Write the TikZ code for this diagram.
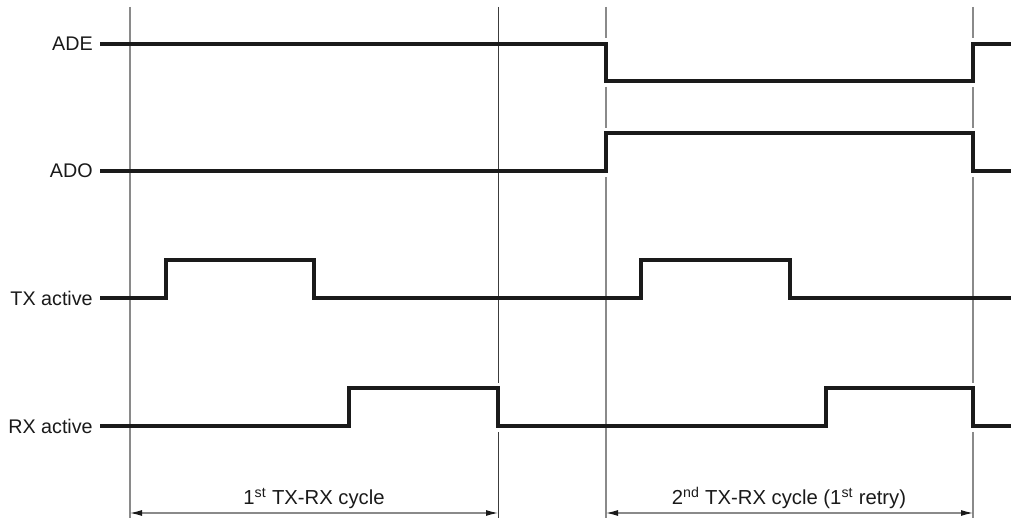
\documentclass[tikz,border=0pt]{standalone}
\usepackage{fontspec}
\setmainfont{Liberation Sans}
\usepackage{tikz}
\usetikzlibrary{arrows.meta,positioning}
\definecolor{sigblack}{HTML}{1A1A1A}
\definecolor{guidegray}{HTML}{8A8A8A}

\begin{document}
\begin{tikzpicture}[x=0.75pt, y=-0.75pt,
    signal/.style={line width=2.3pt, sigblack, line join=miter},
    guide/.style={line width=0.8pt, guidegray},
    guidedark/.style={line width=0.6pt, sigblack!85},
    dimarrow/.style={{Latex[length=9pt,width=4.5pt,color=sigblack]}-{Latex[length=9pt,width=4.5pt,color=sigblack]}, line width=0.8pt, guidegray},
    siglabel/.style={anchor=east, inner sep=0pt, font=\fontsize{14.8}{17}\selectfont, sigblack},
    cyclabel/.style={anchor=base, inner sep=0pt, font=\fontsize{15.2}{17}\selectfont, sigblack}]
  \useasboundingbox (0,0) rectangle (1011,520);

  % Guide lines (broken where an edge runs on them)
  \draw[guide] (130,7) -- (130,518);
  \draw[guidedark] (498,7) -- (498,383) (498,432) -- (498,518);
  \draw[guide] (606,7) -- (606,38) (606,87) -- (606,128) (606,177) -- (606,518);
  \draw[guide] (973,7) -- (973,38) (973,87) -- (973,128) (973,177) -- (973,383)
    (973,432) -- (973,518);

  % Signal names
  \node[siglabel] (ade) at (93,44) {ADE};
  \node[siglabel] (ado) at (93,171) {ADO};
  \node[siglabel] (tx) at (93,298) {TX active};
  \node[siglabel] (rx) at (93,426) {RX active};

  % Waveforms
  \draw[signal] (100,44) -- (606,44) -- (606,81) -- (973,81) -- (973,44) -- (1011,44);
  \draw[signal] (100,171) -- (606,171) -- (606,133) -- (973,133) -- (973,171) -- (1011,171);
  \draw[signal] (100,298) -- (166,298) -- (166,260) -- (314,260) -- (314,298)
    -- (641,298) -- (641,260) -- (790,260) -- (790,298) -- (1011,298);
  \draw[signal] (100,426) -- (349,426) -- (349,388) -- (498,388) -- (498,426)
    -- (826,426) -- (826,388) -- (973,388) -- (973,426) -- (1011,426);

  % Cycle spans
  \coordinate (firststart) at (130,513);
  \coordinate (firstend) at (498,513);
  \coordinate (secondstart) at (606,513);
  \coordinate (secondend) at (973,513);
  \draw[dimarrow] (firststart) -- (firstend);
  \draw[dimarrow] (secondstart) -- (secondend);
  \node[cyclabel] (firstcycle) at (314,504) {1\textsuperscript{st} TX-RX cycle};
  \node[cyclabel] (secondcycle) at (789,504)
    {2\textsuperscript{nd} TX-RX cycle (1\textsuperscript{st} retry)};
\end{tikzpicture}
\end{document}
